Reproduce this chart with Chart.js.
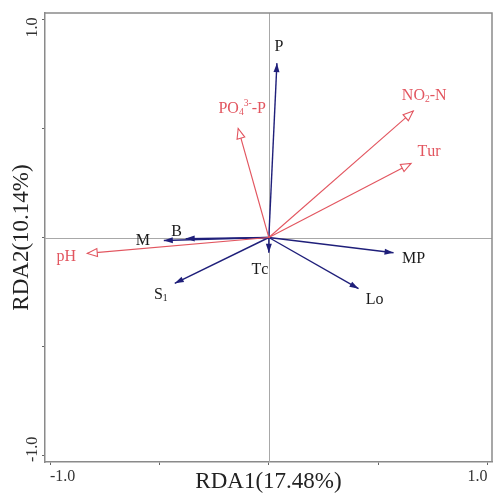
<!DOCTYPE html>
<html>
<head>
<meta charset="utf-8">
<script src="https://cdn.jsdelivr.net/npm/chart.js@4"></script>
<style>
  html, body { margin: 0; padding: 0; background: #fff; }
  #wrap { width: 493px; height: 496px; }
</style>
</head>
<body>
<div id="wrap"><canvas id="rda"></canvas></div>
<script>
// environmental factors (red, open heads)
let envNames = ['PO₄³⁻-P', 'NO₂-N', 'Tur', 'pH'];
let envX = [-0.14, 0.66, 0.65, -0.83];
let envY = [0.50, 0.58, 0.34, -0.073];

// species / response vectors (blue, filled heads)
let spNames = ['P', 'M', 'B', 'S₁', 'Tc', 'MP', 'Lo'];
let spX = [0.037, -0.48, -0.38, -0.43, 0.0, 0.57, 0.41];
let spY = [0.80, -0.014, -0.005, -0.21, -0.07, -0.07, -0.235];

let xTicks = [-1, -0.5, 0, 0.5, 1];
let yTicks = [-1, -0.5, 0, 0.5, 1];

const RED = '#e2555f';
const BLUE = '#1f1f7a';
const SERIF = '"Liberation Serif", "DejaVu Serif", serif';

// label offsets from arrow tip, in px
const envOff = [[4, -20], [11, -15], [18, -12], [-21, 3]];
const spOff = [[2, -16], [-21, 0], [-9, -7], [-14, 12], [-9, 17], [20, 6], [16, 11]];

let datasets = [];
envNames.forEach((n, i) => {
    datasets.push({
        label: n,
        data: [{x: 0, y: 0}, {x: envX[i], y: envY[i]}],
        borderColor: RED,
        borderWidth: 1.1,
        showLine: true,
        pointRadius: 0,
        kind: 'env', idx: i
    });
});
spNames.forEach((n, i) => {
    datasets.push({
        label: n,
        data: [{x: 0, y: 0}, {x: spX[i], y: spY[i]}],
        borderColor: BLUE,
        borderWidth: 1.4,
        showLine: true,
        pointRadius: 0,
        kind: 'sp', idx: i
    });
});

// sub/superscript chars -> small text
const SUB = {'₀':'0','₁':'1','₂':'2','₃':'3','₄':'4'};
const SUP = {'³':'3','⁻':'-','²':'2'};

function richText(c, text, cx, cy, size) {
    let parts = [];
    for (const ch of text) {
        if (SUB[ch]) parts.push({t: SUB[ch], s: size * 0.6, dy: size * 0.22});
        else if (SUP[ch]) parts.push({t: SUP[ch], s: size * 0.6, dy: -size * 0.3});
        else parts.push({t: ch, s: size, dy: 0});
    }
    let w = 0;
    parts.forEach(p => { c.font = p.s + 'px ' + SERIF; p.w = c.measureText(p.t).width; w += p.w; });
    let x = cx - w / 2;
    c.textAlign = 'left';
    c.textBaseline = 'middle';
    parts.forEach(p => {
        c.font = p.s + 'px ' + SERIF;
        c.fillText(p.t, x, cy + p.dy);
        x += p.w;
    });
}

//linhas de referencia, caixa, pontas e rotulos
const rdaPlugin = {
    id: 'rdaPlugin',
    beforeDatasetsDraw(chart) {
        const c = chart.ctx, a = chart.chartArea;
        const xs = chart.scales.x, ys = chart.scales.y;
        c.save();
        c.strokeStyle = '#a8a8a8';
        c.lineWidth = 1;
        let x0 = Math.round(xs.getPixelForValue(0)) + 0.5;
        let y0 = Math.round(ys.getPixelForValue(0)) + 0.5;
        c.beginPath();
        c.moveTo(x0, a.top); c.lineTo(x0, a.bottom);
        c.moveTo(a.left, y0); c.lineTo(a.right, y0);
        c.stroke();
        c.strokeStyle = '#8a8a8a';
        c.lineWidth = 1.5;
        c.beginPath();
        c.moveTo(a.left, a.top); c.lineTo(a.right, a.top); c.lineTo(a.right, a.bottom);
        c.stroke();
        c.restore();
    },
    afterDatasetsDraw(chart) {
        const c = chart.ctx;
        const xs = chart.scales.x, ys = chart.scales.y;
        const ox = xs.getPixelForValue(0), oy = ys.getPixelForValue(0);
        c.save();
        chart.data.datasets.forEach(ds => {
            const tip = ds.data[1];
            const tx = xs.getPixelForValue(tip.x), ty = ys.getPixelForValue(tip.y);
            const ang = Math.atan2(ty - oy, tx - ox);
            const env = ds.kind === 'env';
            const len = env ? 10 : 9, half = env ? 4 : 3;
            const bx = tx - len * Math.cos(ang), by = ty - len * Math.sin(ang);
            const px = -Math.sin(ang) * half, py = Math.cos(ang) * half;
            c.beginPath();
            c.moveTo(tx, ty);
            c.lineTo(bx + px, by + py);
            c.lineTo(bx - px, by - py);
            c.closePath();
            if (env) {
                c.fillStyle = '#fff';
                c.fill();
                c.strokeStyle = RED;
                c.lineWidth = 1.1;
                c.stroke();
            } else {
                c.fillStyle = BLUE;
                c.fill();
            }
            const off = env ? envOff[ds.idx] : spOff[ds.idx];
            c.fillStyle = env ? RED : '#1a1a1a';
            richText(c, ds.label, tx + off[0], ty + off[1], 16);
        });

        // y tick labels, rotated
        c.font = '16px ' + SERIF;
        c.fillStyle = '#333';
        c.textBaseline = 'middle';
        const lx = 33;
        c.save();
        c.translate(lx, ys.getPixelForValue(1) - 2);
        c.rotate(-Math.PI / 2);
        c.textAlign = 'right';
        c.fillText('1.0', 0, 0);
        c.restore();
        c.save();
        c.translate(lx, chart.chartArea.bottom);
        c.rotate(-Math.PI / 2);
        c.textAlign = 'left';
        c.fillText('-1.0', 0, 0);
        c.restore();
        c.restore();
    }
};

let ctx = document.getElementById('rda').getContext('2d');
let rdaChart = new Chart(ctx, {
    type: 'scatter',
    data: { datasets: datasets },
    options: {
        responsive: true,
        maintainAspectRatio: false,
        animation: false,
        layout: { padding: { top: 13, right: 1, left: 0, bottom: 0 } },
        plugins: { legend: { display: false }, tooltip: { enabled: false } },
        scales: {
            x: {
                type: 'linear',
                min: -1.023,
                max: 1.02,
                afterBuildTicks: s => { s.ticks = xTicks.map(v => ({value: v})); },
                afterFit: s => { s.height = 34; },
                grid: { drawOnChartArea: false, drawTicks: true, tickLength: 3, color: '#666' },
                border: { color: '#8a8a8a', width: 1.5 },
                ticks: {
                    align: 'inner',
                    padding: 2,
                    color: '#333',
                    font: { family: SERIF, size: 16 },
                    callback: v => (v === 1 ? '1.0' : v === -1 ? '-1.0' : '')
                },
                title: {
                    display: true,
                    text: 'RDA1(17.48%)',
                    color: '#222',
                    padding: { top: -3, bottom: 0 },
                    font: { family: SERIF, size: 23 }
                }
            },
            y: {
                type: 'linear',
                min: -1.03,
                max: 1.03,
                afterBuildTicks: s => { s.ticks = yTicks.map(v => ({value: v})); },
                afterFit: s => { s.width = 45; },
                grid: { drawOnChartArea: false, drawTicks: true, tickLength: 3, color: '#666' },
                border: { color: '#8a8a8a', width: 1.5 },
                ticks: { display: false },
                title: {
                    display: true,
                    text: 'RDA2(10.14%)',
                    color: '#222',
                    padding: { top: 8, bottom: 0 },
                    font: { family: SERIF, size: 23 }
                }
            }
        }
    },
    plugins: [rdaPlugin]
});
</script>
</body>
</html>
